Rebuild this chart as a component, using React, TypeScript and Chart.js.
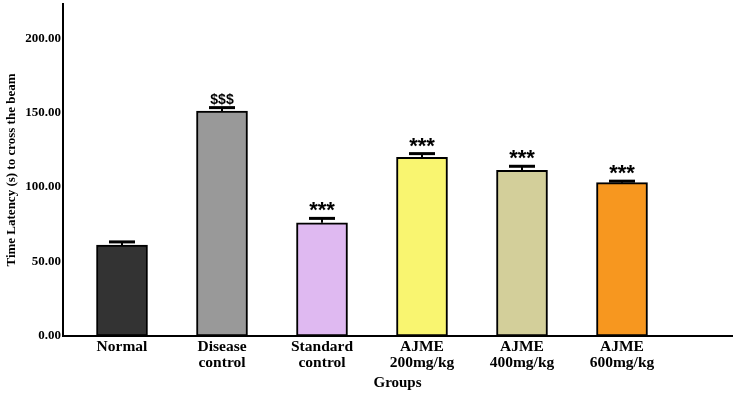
import React, { useEffect, useRef } from 'react';
import { Chart, registerables } from 'chart.js';

Chart.register(...registerables);

const groups: string[][] = [
  ['Normal'],
  ['Disease', 'control'],
  ['Standard', 'control'],
  ['AJME', '200mg/kg'],
  ['AJME', '400mg/kg'],
  ['AJME', '600mg/kg'],
];
const means = [61, 151, 76, 120, 111.2, 103];
const sem = [2.2, 2.4, 3, 2.5, 2.8, 1];
const marks = ['', '$$$', '***', '***', '***', '***'];
const colors = ['#333333', '#999999', '#dfb9f1', '#f9f570', '#d3cf9a', '#f7971f'];
const yMax = 223;
const yStep = 50;

const errorPlugin = {
  id: 'errorBars',
  afterDatasetsDraw(chart: any) {
    const { ctx } = chart;
    const xs = chart.scales.x;
    const ys = chart.scales.y;
    ctx.save();
    ctx.strokeStyle = '#000';
    ctx.fillStyle = '#000';
    means.forEach((m, i) => {
      const x = xs.getPixelForValue(i);
      const yTop = ys.getPixelForValue(m);
      const yCap = ys.getPixelForValue(m + sem[i]);
      ctx.lineWidth = 2;
      ctx.beginPath();
      ctx.moveTo(x, yTop);
      ctx.lineTo(x, yCap);
      ctx.stroke();
      ctx.lineWidth = 3;
      ctx.beginPath();
      ctx.moveTo(x - 13, yCap);
      ctx.lineTo(x + 13, yCap);
      ctx.stroke();
      const mk = marks[i];
      if (mk) {
        ctx.textAlign = 'center';
        ctx.textBaseline = 'alphabetic';
        if (mk.startsWith('$')) {
          ctx.font = 'bold 14px "Liberation Sans", Arial, sans-serif';
          ctx.fillText(mk, x, yCap - 4);
        } else {
          ctx.font = 'bold 22px "Liberation Sans", Arial, sans-serif';
          ctx.fillText(mk, x, yCap - 1);
        }
      }
    });
    ctx.restore();
  },
};

export default function App() {
  const ref = useRef<HTMLCanvasElement | null>(null);
  useEffect(() => {
    if (!ref.current) return;
    const chart = new Chart(ref.current, {
      type: 'bar',
      data: {
        datasets: [
          {
            data: means.map((v, i) => ({ x: i, y: v })),
            backgroundColor: colors,
            borderColor: '#000',
            borderWidth: 2,
            borderSkipped: false,
            barThickness: 51,
          },
        ],
      },
      options: {
        responsive: false,
        animation: false,
        layout: { padding: { left: 0, right: 8, top: 4, bottom: 0 } },
        plugins: { legend: { display: false }, tooltip: { enabled: false } },
        scales: {
          x: {
            type: 'linear',
            min: -0.59,
            max: 6.1,
            offset: false,
            grid: { display: false, drawTicks: false },
            border: { display: true, color: '#000', width: 2 },
            afterFit: (s: any) => {
              s.height = 60;
              s.paddingLeft = 0;
              s.paddingRight = 0;
            },
            ticks: {
              stepSize: 1,
              autoSkip: false,
              includeBounds: false,
              maxRotation: 0,
              padding: 3,
              color: '#000',
              font: { family: '"Liberation Serif", "Times New Roman", serif', size: 15.5, weight: 'bold', lineHeight: 1.02 },
              callback: (v: any) => {
                const n = Number(v);
                return Number.isInteger(n) && groups[n] ? groups[n] : '';
              },
            },
            title: {
              display: true,
              text: 'Groups',
              color: '#000',
              padding: { top: 0, bottom: 4 },
              font: { family: '"Liberation Serif", "Times New Roman", serif', size: 15, weight: 'bold' },
            },
          },
          y: {
            type: 'linear',
            min: 0,
            max: yMax,
            grid: { display: false, drawTicks: false },
            border: { display: true, color: '#000', width: 2 },
            afterFit: (s: any) => {
              s.width = 63;
              s.paddingTop = 0;
              s.paddingBottom = 0;
            },
            ticks: {
              stepSize: yStep,
              includeBounds: false,
              padding: 2,
              color: '#000',
              font: { family: '"Liberation Serif", "Times New Roman", serif', size: 13, weight: 'bold' },
              callback: (v: any) => Number(v).toFixed(2),
            },
            title: {
              display: true,
              text: 'Time Latency (s) to cross the beam',
              color: '#000',
              padding: { top: 4, bottom: 0 },
              font: { family: '"Liberation Serif", "Times New Roman", serif', size: 13, weight: 'bold' },
            },
          },
        },
      },
      plugins: [errorPlugin],
    } as any);
    return () => chart.destroy();
  }, []);
  return (
    <div style={{ position: 'absolute', left: 0, top: 0, width: 740, height: 396, background: '#fff' }}>
      <canvas ref={ref} width={740} height={396} />
    </div>
  );
}
